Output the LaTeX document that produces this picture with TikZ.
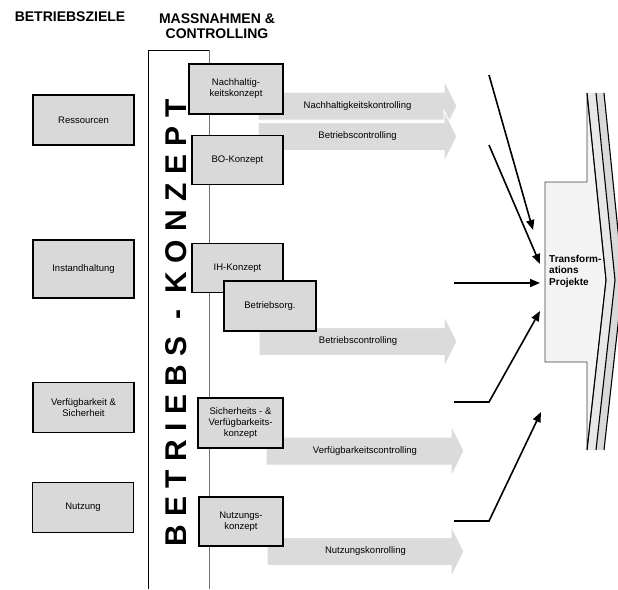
\documentclass[tikz,border=0pt]{standalone}
\usepackage{fontspec}
\setmainfont{Liberation Sans}
\usetikzlibrary{arrows.meta}

\definecolor{boxgrau}{gray}{0.85}
\definecolor{pfeilgrau}{gray}{0.86}
\definecolor{trafohell}{gray}{0.955}
\definecolor{trafomittel}{gray}{0.91}
\definecolor{trafodunkel}{gray}{0.85}

\newcommand{\boxschrift}{\fontsize{9.5}{11}\selectfont}
\newcommand{\titelschrift}{\fontsize{14}{15.5}\selectfont\bfseries}
\newcommand{\konzeptschrift}{\fontsize{30}{30}\selectfont\bfseries}

% block arrow: name, left end x, centre y, tip x, label
\newcommand{\blockpfeil}[5]{%
  \filldraw[pfeilflaeche] (#2,#3-14) -- (#4-13,#3-14) -- (#4-13,#3-26) -- (#4,#3)
    -- (#4-13,#3+26) -- (#4-13,#3+14) -- (#2,#3+14) -- cycle;
  \node[pfeiltext] (#1) at ({(#2+#4)/2},#3) {#5};}

\tikzset{
  titel/.style={font=\titelschrift, align=center, inner sep=0pt},
  zielbox/.style={draw, line width=1.6pt, fill=boxgrau, minimum width=101pt,
    minimum height=50pt, align=center, font=\boxschrift, inner sep=1pt},
  massbox/.style={zielbox, minimum height=49pt},
  pfeilflaeche/.style={fill=pfeilgrau, draw=white, line width=1pt},
  pfeiltext/.style={font=\boxschrift, inner sep=0pt},
  wirkpfeil/.style={line width=1.6pt, -{Triangle[length=10pt,width=8pt]}},
}

\begin{document}
\begin{tikzpicture}[x=1pt, y=-1pt]
    \useasboundingbox (0,0) rectangle (618,589);

    %% Headings
    \node[titel] (ziele) at (70,17) {BETRIEBSZIELE};
    \node[titel] (massnahmen) at (217,26) {MASSNAHMEN \&\\CONTROLLING};

    % Frame of the concept column
    \draw[line width=0.8pt] (148,589) -- (148,50) -- (209,50);
    \draw[line width=1pt, black!55] (209,50) -- (209,589);

    %% Operating goals
    \node[zielbox] (ressourcen) at (83.5,120) {Ressourcen};
    \node[zielbox, minimum height=58pt] (instand) at (83.5,269) {Instandhaltung};
    \node[zielbox] (verfuegbar) at (83.5,407.5) {Verfügbarkeit \&\\Sicherheit};
    \node[zielbox] (nutzung) at (83,507.5) {Nutzung};

    %% Controlling arrows
    \blockpfeil{nhctrl}{258}{106}{457}{Nachhaltigkeitskontrolling}
    \blockpfeil{bctrlo}{258}{136.5}{457}{Betriebscontrolling}
    \blockpfeil{bctrlu}{259}{341.5}{457}{Betriebscontrolling}
    \blockpfeil{vctrl}{266}{451}{464}{Verfügbarkeitscontrolling}
    \blockpfeil{nctrl}{267}{551.5}{464}{Nutzungskonrolling}

    %% Measures
    \node[massbox, minimum width=94pt, minimum height=50pt] (nhkonzept) at (236,89) {Nachhaltig-\\keitskonzept};
    \node[massbox, minimum width=91pt] (bokonzept) at (237.5,160) {BO-Konzept};
    \node[massbox, minimum width=91pt] (ihkonzept) at (237.5,268) {IH-Konzept};
    \node[massbox, minimum width=92pt, minimum height=50pt] (betriebsorg) at (270,306) {Betriebsorg.};
    \node[massbox, minimum width=85pt, minimum height=50pt] (sikonzept) at (240.5,423) {Sicherheits - \&\\Verfügbarkeits-\\konzept};
    \node[massbox, minimum width=84pt] (nukonzept) at (241,521.5) {Nutzungs-\\konzept};

    % Vertical title
    \node[rotate=90, font=\konzeptschrift, inner sep=0pt] (konzept) at (176,323) {B E T R I E B S~~-~~K O N Z E P T};

    %% Transformation projects
    % back chevrons
    \fill[trafomittel] (587,93) -- (596,93) -- (615,280) -- (596,450) -- (587,450) -- (606,280) -- cycle;
    \fill[trafodunkel] (596,93) -- (604,93) -- (623,280) -- (604,450) -- (596,450) -- (615,280) -- cycle;
    % body
    \draw[fill=trafohell, draw=black!75, line width=0.8pt] (545,182) -- (587,182) -- (587,93)
      -- (606,280) -- (587,450) -- (587,362) -- (545,362) -- cycle;
    \draw[line width=1.1pt] (587,93) -- (606,280) -- (587,450);
    \draw[line width=1.1pt] (596,93) -- (615,280) -- (596,450);
    \draw[line width=1.1pt] (604,93) -- (623,280) -- (604,450);
    \node[font=\fontsize{10}{11.5}\selectfont\bfseries, align=left, anchor=west, inner sep=0pt] (trafo) at (549,271) {Transform-\\ations\\Projekte};

    % Inputs to the projects
    \coordinate (s1) at (489,75);  \coordinate (e1) at (533,230);
    \coordinate (s2) at (489,145); \coordinate (e2) at (540,264);
    \coordinate (s3) at (454,283); \coordinate (e3) at (540,283);
    \coordinate (s4) at (454,402); \coordinate (k4) at (489,402); \coordinate (e4) at (540,311);
    \coordinate (s5) at (454,521); \coordinate (k5) at (489,521); \coordinate (e5) at (541,412);
    \draw[wirkpfeil] (s1) -- (e1);
    \draw[wirkpfeil] (s2) -- (e2);
    \draw[wirkpfeil] (s3) -- (e3);
    \draw[wirkpfeil] (s4) -- (k4) -- (e4);
    \draw[wirkpfeil] (s5) -- (k5) -- (e5);

\end{tikzpicture}
\end{document}
